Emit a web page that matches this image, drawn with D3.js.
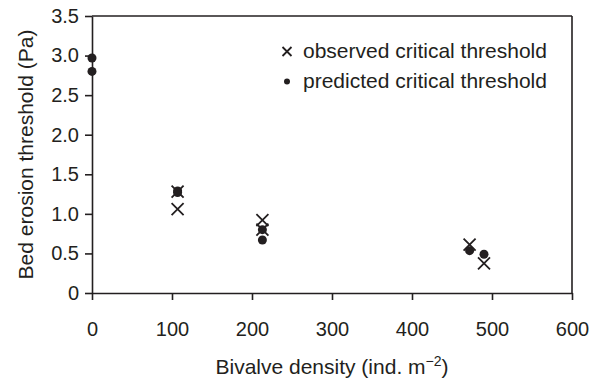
<!DOCTYPE html>
<html>
<head>
<meta charset="utf-8">
<script src="https://cdn.jsdelivr.net/npm/d3@7"></script>
<style>
  body { margin: 0; background: #fff; }
  svg text { font-family: "Liberation Sans", Arial, Helvetica, sans-serif; fill: #231f20; }
</style>
</head>
<body>
<div id="chart"></div>
<script>
// data
var obsDensity  = [107, 107, 213, 213, 472, 490];
var obsTau      = [1.28, 1.06, 0.92, 0.80, 0.61, 0.375];
var predDensity = [0, 0, 107, 107, 213, 213, 472, 490];
var predTau     = [2.97, 2.80, 1.29, 1.27, 0.80, 0.67, 0.535, 0.49];
var xTicks = [0, 100, 200, 300, 400, 500, 600];
var yTicks = [0, 0.5, 1.0, 1.5, 2.0, 2.5, 3.0, 3.5];
var legendLabels = ["observed critical threshold", "predicted critical threshold"];

var svgWidth = 602, svgHeight = 384;
var margin = {top: 16, right: 30, bottom: 91, left: 92};
var chartWidth = svgWidth - margin.left - margin.right;
var chartHeight = svgHeight - margin.top - margin.bottom;

var svg = d3.select("#chart").append("svg")
    .attr("width", svgWidth)
    .attr("height", svgHeight);

var g = svg.append("g")
    .attr("transform", `translate(${margin.left},${margin.top})`);

var x = d3.scaleLinear().domain([0, 600]).range([0, chartWidth]);
var y = d3.scaleLinear().domain([0, 3.5]).range([chartHeight, 0]);

// axes
var xAxis = g.append("g")
    .attr("transform", `translate(0,${chartHeight})`)
    .call(d3.axisBottom(x).tickValues(xTicks).tickSize(7).tickSizeOuter(0).tickPadding(22));

var yAxis = g.append("g")
    .call(d3.axisLeft(y).tickValues(yTicks).tickSize(7).tickSizeOuter(0).tickPadding(6)
        .tickFormat(d => d === 0 ? "0" : d.toFixed(1)));

[xAxis, yAxis].forEach(function(a){
    a.selectAll("path, line").attr("stroke", "#231f20").attr("stroke-width", 1.6);
    a.selectAll("text").attr("font-size", "20px").attr("fill", "#231f20");
});

// top & right frame
g.append("line").attr("x1", 0).attr("x2", chartWidth).attr("y1", 0).attr("y2", 0)
    .attr("stroke", "#231f20").attr("stroke-width", 1.6);
g.append("line").attr("x1", chartWidth).attr("x2", chartWidth).attr("y1", 0).attr("y2", chartHeight)
    .attr("stroke", "#231f20").attr("stroke-width", 1.6);

var obs = obsDensity.map((d, i) => ({x: d, y: obsTau[i]}));
var pred = predDensity.map((d, i) => ({x: d, y: predTau[i]}));

function cross(sel, s) {
    sel.append("path")
        .attr("d", `M${-s},${-s}L${s},${s}M${-s},${s}L${s},${-s}`)
        .attr("stroke", "#231f20")
        .attr("stroke-width", 1.8)
        .attr("fill", "none");
}

// observed points (crosses)
g.selectAll(".obs")
    .data(obs)
    .enter()
    .append("g")
    .attr("class", "obs")
    .attr("transform", d => `translate(${x(d.x)},${y(d.y)})`)
    .call(cross, 6);

// predicted points (dots)
g.selectAll(".pred")
    .data(pred)
    .enter()
    .append("circle")
    .attr("class", "pred")
    .attr("cx", d => x(d.x))
    .attr("cy", d => y(d.y))
    .attr("r", 4.5)
    .attr("fill", "#231f20");

// legend
var legend = svg.append("g").attr("transform", "translate(287,0)");
legend.append("g").attr("transform", "translate(0,51.5)").call(cross, 4.5);
legend.append("circle").attr("cx", 0).attr("cy", 81.5).attr("r", 3).attr("fill", "#231f20");
legend.selectAll(".lbl")
    .data(legendLabels)
    .enter()
    .append("text")
    .attr("x", 16)
    .attr("y", (d, i) => 58 + i * 30)
    .attr("font-size", "21px")
    .text(d => d);

// axis titles
var xt = svg.append("text")
    .attr("x", margin.left + chartWidth / 2)
    .attr("y", 374)
    .attr("text-anchor", "middle")
    .attr("font-size", "21px");
xt.append("tspan").text("Bivalve density (ind. m");
xt.append("tspan").attr("dy", -8).attr("font-size", "14px").text("\u22122");
xt.append("tspan").attr("dy", 8).text(")");

svg.append("text")
    .attr("transform", `translate(33, ${margin.top + chartHeight / 2}) rotate(-90)`)
    .attr("text-anchor", "middle")
    .attr("font-size", "21px")
    .text("Bed erosion threshold (Pa)");
</script>
</body>
</html>
